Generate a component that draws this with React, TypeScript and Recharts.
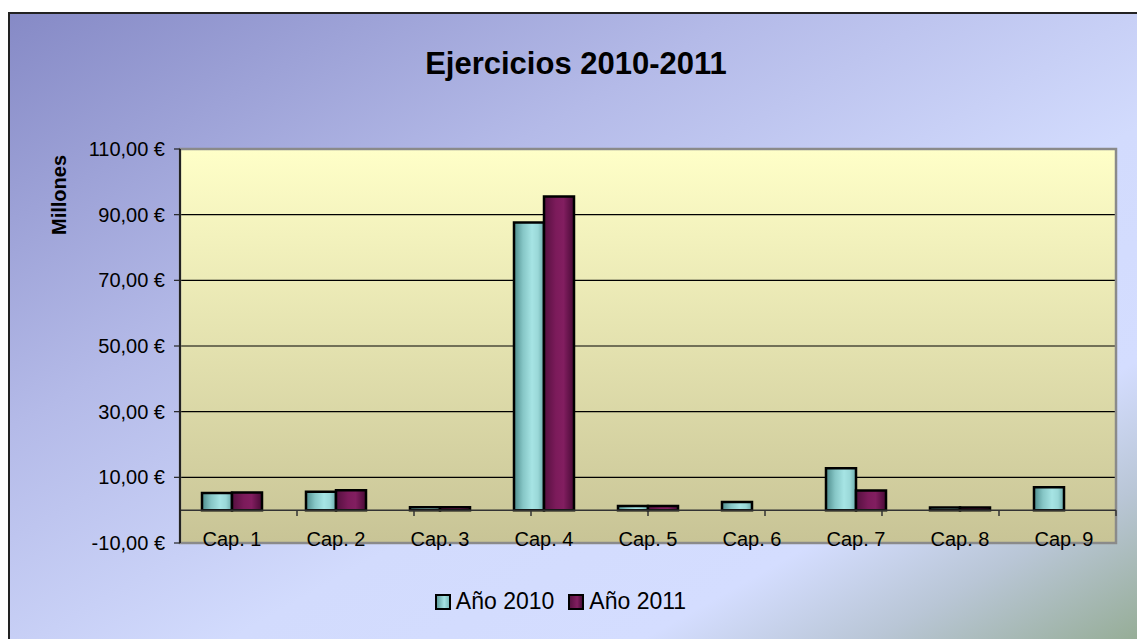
import { BarChart, Bar, XAxis, YAxis, CartesianGrid, ReferenceLine, ReferenceArea, Legend } from 'recharts';

const categories = ['Cap. 1', 'Cap. 2', 'Cap. 3', 'Cap. 4', 'Cap. 5', 'Cap. 6', 'Cap. 7', 'Cap. 8', 'Cap. 9'];
const anio2010 = [5.2, 5.6, 0.9, 87.6, 1.3, 2.5, 12.8, 0.8, 7.0];
const anio2011 = [5.4, 6.1, 0.9, 95.5, 1.3, 0, 6.0, 0.8, 0];
const yTicks = [-10, 10, 30, 50, 70, 90, 110];
const boundaries = [0, 1, 2, 3, 4, 5, 6, 7, 8, 9];

const data = categories.map((name, i) => ({ name, y2010: anio2010[i], y2011: anio2011[i] }));

const FONT = '"Liberation Sans", Arial, sans-serif';

const euro = (v: number) => v.toFixed(2).replace('.', ',') + ' €';

const CapTick = (props: any) => {
  const { x, y, payload } = props;
  return (
    <text x={x} y={y} dy={3} textAnchor="middle" fontFamily={FONT} fontSize={20} fill="#000">
      {payload.value}
    </text>
  );
};

const LegendContent = () => (
  <div style={{ display: 'flex', justifyContent: 'center', alignItems: 'center', fontFamily: FONT, fontSize: 23, color: '#000' }}>
    <span style={{ display: 'inline-block', width: 12, height: 12, border: '2px solid #000', background: 'linear-gradient(to right, #5f9f9f, #a5e3e3 60%, #7cbcbc)', marginRight: 5 }} />
    <span style={{ marginRight: 14 }}>Año 2010</span>
    <span style={{ display: 'inline-block', width: 12, height: 12, border: '2px solid #000', background: 'linear-gradient(to right, #5a1242, #821e60 60%, #4a0c38)', marginRight: 5 }} />
    <span>Año 2011</span>
  </div>
);

export default function App() {
  return (
    <div style={{ position: 'absolute', left: 0, top: 0, width: 1137, height: 639, overflow: 'hidden', background: '#fff' }}>
      <div
        style={{
          position: 'absolute',
          left: 8,
          top: 12,
          width: 1150,
          height: 650,
          border: '2px solid #222',
          boxSizing: 'border-box',
          background:
            'linear-gradient(to bottom right, #868ac6 0%, #b4bae8 32%, #d2dbfd 58%, #d4ddff 76%, #b9c6d6 86%, #8fa88a 100%)',
        }}
      />
      <div
        style={{
          position: 'absolute',
          left: 0,
          width: 1152,
          top: 46,
          textAlign: 'center',
          fontFamily: FONT,
          fontWeight: 'bold',
          fontSize: 31,
          color: '#000',
        }}
      >
        Ejercicios 2010-2011
      </div>
      <div
        style={{
          position: 'absolute',
          left: 59,
          top: 195,
          transform: 'translate(-50%, -50%) rotate(-90deg)',
          fontFamily: FONT,
          fontWeight: 'bold',
          fontSize: 20,
          color: '#000',
          whiteSpace: 'nowrap',
        }}
      >
        Millones
      </div>
      <div style={{ position: 'absolute', left: 0, top: 0 }}>
        <BarChart
          width={1137}
          height={639}
          data={data}
          margin={{ top: 149, right: 21, bottom: 66, left: 80 }}
          barGap={0}
          barSize={30}
        >
          <defs>
            <linearGradient id="plotBg" x1="0" y1="0" x2="0" y2="1">
              <stop offset="0%" stopColor="#ffffc8" />
              <stop offset="100%" stopColor="#c8c496" />
            </linearGradient>
            <linearGradient id="g2010" x1="0" y1="0" x2="1" y2="0">
              <stop offset="0%" stopColor="#4e8c8c" />
              <stop offset="30%" stopColor="#86c6c6" />
              <stop offset="60%" stopColor="#a6e4e4" />
              <stop offset="80%" stopColor="#9ad8d8" />
              <stop offset="100%" stopColor="#6aaaaa" />
            </linearGradient>
            <linearGradient id="g2011" x1="0" y1="0" x2="1" y2="0">
              <stop offset="0%" stopColor="#55103f" />
              <stop offset="40%" stopColor="#7c1b5b" />
              <stop offset="65%" stopColor="#821e60" />
              <stop offset="100%" stopColor="#480a36" />
            </linearGradient>
          </defs>
          <CartesianGrid vertical={false} stroke="#000" strokeWidth={1.2} fill="url(#plotBg)" fillOpacity={1} />
          <XAxis
            dataKey="name"
            height={30}
            axisLine={false}
            tickLine={false}
            tickSize={0}
            tickMargin={0}
            interval={0}
            tick={<CapTick />}
          />
          <XAxis xAxisId="n" type="number" domain={[0, 9]} hide />
          <YAxis
            width={100}
            domain={[-10, 110]}
            ticks={yTicks}
            interval={0}
            tickFormatter={euro}
            tickSize={6}
            tickMargin={9}
            axisLine={{ stroke: '#222', strokeWidth: 2 }}
            tickLine={{ stroke: '#222', strokeWidth: 1.2 }}
            tick={{ fontFamily: FONT, fontSize: 20, fill: '#000' }}
          />
          <ReferenceArea y1={-10} y2={110} fill="none" stroke="#8a8a8a" strokeWidth={2.5} />
          <ReferenceLine y={0} stroke="#333" strokeWidth={1.5} />
          {boundaries.map((b) => (
            <ReferenceLine
              key={b}
              xAxisId="n"
              segment={[{ x: b, y: 0 }, { x: b, y: -1.8 }]}
              stroke="#333"
              strokeWidth={1.5}
            />
          ))}
          <Bar dataKey="y2010" name="Año 2010" fill="url(#g2010)" stroke="#000" strokeWidth={2.5} isAnimationActive={false} />
          <Bar dataKey="y2011" name="Año 2011" fill="url(#g2011)" stroke="#000" strokeWidth={2.5} isAnimationActive={false} />
          <Legend
            layout="horizontal"
            verticalAlign="middle"
            align="center"
            content={<LegendContent />}
            wrapperStyle={{ top: 588, left: -8, width: 1137 }}
          />
        </BarChart>
      </div>
    </div>
  );
}
